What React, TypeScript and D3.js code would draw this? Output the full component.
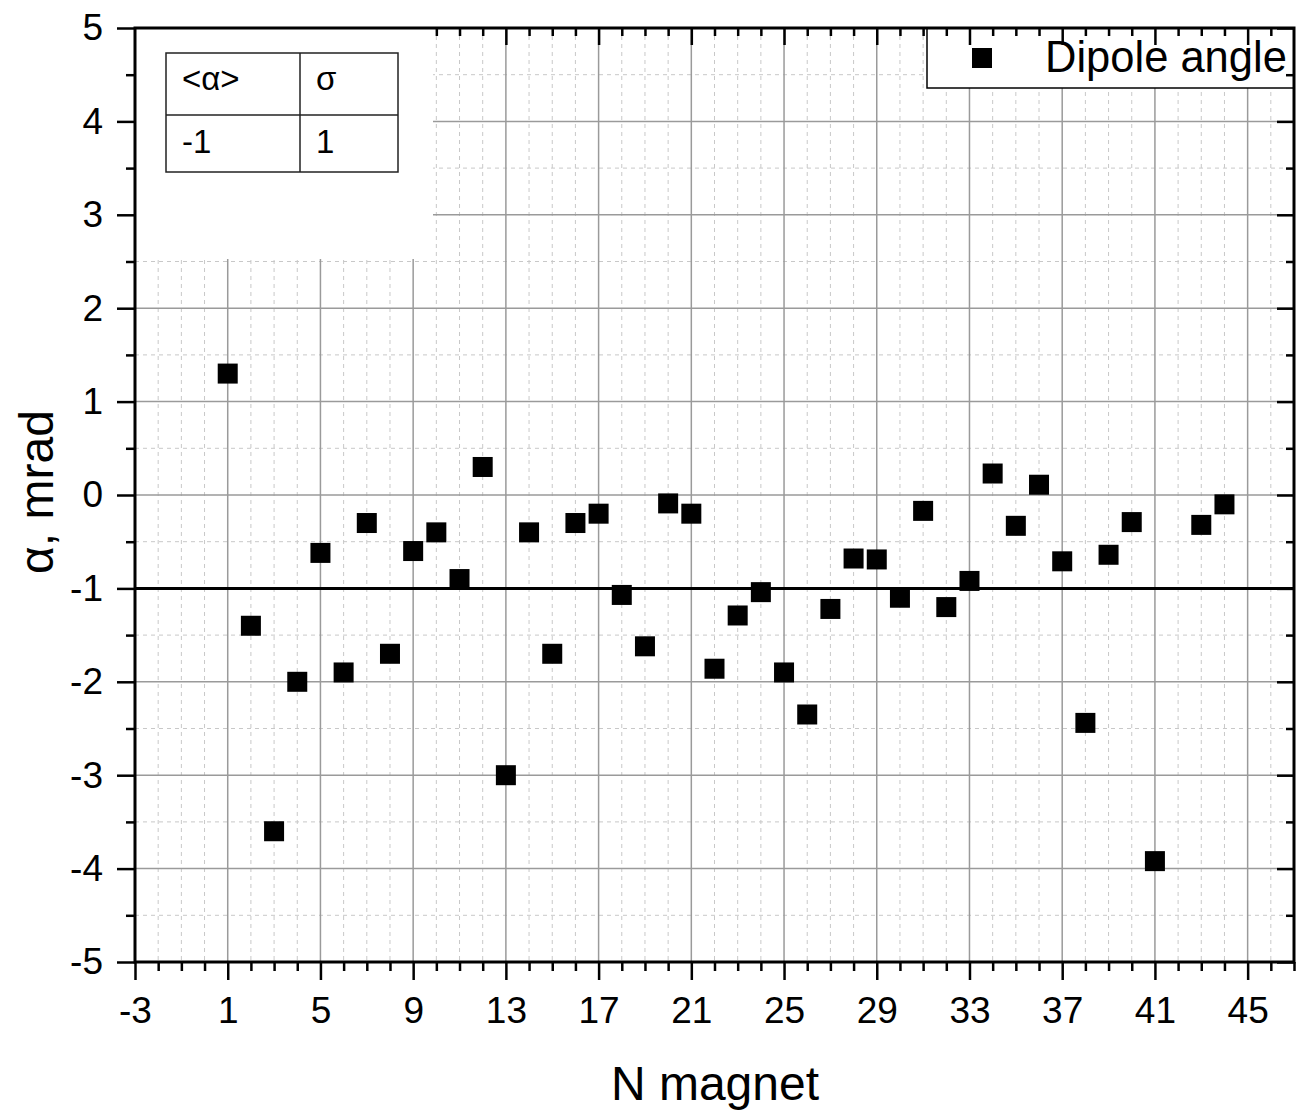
import React, { useEffect, useRef } from "react";
import * as d3 from "d3";

const magnetN = [1,2,3,4,5,6,7,8,9,10,11,12,13,14,15,16,17,18,19,20,21,22,23,24,25,26,27,28,29,30,31,32,33,34,35,36,37,38,39,40,41,43,44];
const alphaValues = [1.30,-1.40,-3.60,-2.00,-0.62,-1.90,-0.30,-1.70,-0.60,-0.40,-0.90,0.30,-3.00,-0.40,-1.70,-0.30,-0.20,-1.07,-1.62,-0.09,-0.20,-1.86,-1.29,-1.04,-1.90,-2.35,-1.22,-0.68,-0.69,-1.10,-0.17,-1.20,-0.92,0.23,-0.33,0.11,-0.71,-2.44,-0.64,-0.29,-3.92,-0.32,-0.10];
const meanAlpha = -1;
const tableHeaders = ["<α>", "σ"];
const tableValues = ["-1", "1"];
const xMajorTicks = [-3,1,5,9,13,17,21,25,29,33,37,41,45];
const yMajorTicks = [-5,-4,-3,-2,-1,0,1,2,3,4,5];
const seriesName = "Dipole angle";
const xTitle = "N magnet";
const yTitle = "α, mrad";

const W = 1297, H = 1110;
const FONT = "'Liberation Sans', Arial, sans-serif";

export default function App() {
  const ref = useRef<SVGSVGElement>(null);
  useEffect(() => {
    const svg = d3.select(ref.current);
    svg.selectAll("*").remove();
    const x = d3.scaleLinear().domain([-3, 47]).range([135, 1294]);
    const y = d3.scaleLinear().domain([-5, 5]).range([962, 28]);
    const [x0, x1] = x.range();
    const [y0, y1] = y.range();
    const xMinor = d3.range(-3, 47.001, 1).filter(v => !xMajorTicks.includes(v));
    const yMinor = d3.range(-5, 5.001, 0.5).filter(v => !yMajorTicks.includes(v));

    const g = svg.append("g");
    // minor grid
    g.selectAll(".gxm").data(xMinor.filter(v => v > -3 && v < 47)).enter().append("line")
      .attr("x1", d => x(d)).attr("x2", d => x(d)).attr("y1", y1).attr("y2", y0)
      .attr("stroke", "#c8c8c8").attr("stroke-width", 1).attr("stroke-dasharray", "4,4");
    g.selectAll(".gym").data(yMinor).enter().append("line")
      .attr("y1", d => y(d)).attr("y2", d => y(d)).attr("x1", x0).attr("x2", x1)
      .attr("stroke", "#c8c8c8").attr("stroke-width", 1).attr("stroke-dasharray", "4,4");
    // major grid
    g.selectAll(".gx").data(xMajorTicks.filter(v => v > -3)).enter().append("line")
      .attr("x1", d => x(d)).attr("x2", d => x(d)).attr("y1", y1).attr("y2", y0)
      .attr("stroke", "#9a9a9a").attr("stroke-width", 1.5);
    g.selectAll(".gy").data(yMajorTicks.filter(v => v > -5 && v < 5)).enter().append("line")
      .attr("y1", d => y(d)).attr("y2", d => y(d)).attr("x1", x0).attr("x2", x1)
      .attr("stroke", "#9a9a9a").attr("stroke-width", 1.5);

    // mean line
    g.append("line").attr("x1", x0).attr("x2", x1).attr("y1", y(meanAlpha)).attr("y2", y(meanAlpha))
      .attr("stroke", "#000").attr("stroke-width", 3);

    // points
    const s = 20;
    g.selectAll(".pt").data(magnetN).enter().append("rect")
      .attr("x", (d) => x(d) - s / 2).attr("y", (d, i) => y(alphaValues[i]) - s / 2)
      .attr("width", s).attr("height", s).attr("fill", "#000");

    // table background
    g.append("rect").attr("x", x0 + 1).attr("y", y1 + 1).attr("width", 432 - x0).attr("height", 258 - y1)
      .attr("fill", "#fff");
    const tb = g.append("g");
    const tx = 166, ty = 53, cw1 = 134, cw2 = 98, rh = 62, rh2 = 57;
    tb.append("rect").attr("x", tx).attr("y", ty).attr("width", cw1 + cw2).attr("height", rh + rh2)
      .attr("fill", "#fff").attr("stroke", "#222").attr("stroke-width", 1.5);
    tb.append("line").attr("x1", tx + cw1).attr("x2", tx + cw1).attr("y1", ty).attr("y2", ty + rh + rh2)
      .attr("stroke", "#222").attr("stroke-width", 1.5);
    tb.append("line").attr("x1", tx).attr("x2", tx + cw1 + cw2).attr("y1", ty + rh).attr("y2", ty + rh)
      .attr("stroke", "#222").attr("stroke-width", 1.5);
    const cols = [tx + 16, tx + cw1 + 16];
    tableHeaders.forEach((t, i) => {
      tb.append("text").attr("x", cols[i]).attr("y", 90).text(t)
        .attr("font-family", FONT).attr("font-size", 33).attr("fill", "#000");
    });
    tableValues.forEach((t, i) => {
      tb.append("text").attr("x", cols[i]).attr("y", 153).text(t)
        .attr("font-family", FONT).attr("font-size", 33).attr("fill", "#000");
    });

    // legend
    const lg = g.append("g");
    lg.append("rect").attr("x", 927).attr("y", y1).attr("width", x1 - 927).attr("height", 60)
      .attr("fill", "#fff").attr("stroke", "#000").attr("stroke-width", 1.5);
    lg.append("rect").attr("x", 972).attr("y", 48).attr("width", 20).attr("height", 20).attr("fill", "#000");
    lg.append("text").attr("x", 1045).attr("y", 72).text(seriesName)
      .attr("font-family", FONT).attr("font-size", 43.5).attr("fill", "#000");

    // axes
    const styleAxis = (sel: any, fs: number) => {
      sel.select(".domain").remove();
      sel.selectAll(".tick line").attr("stroke", "#000").attr("stroke-width", 2.5);
      sel.selectAll(".tick text").attr("font-family", FONT).attr("font-size", fs).attr("fill", "#000");
    };
    const fmt = (d: any) => String(d);
    const TF = 37;
    // bottom
    styleAxis(g.append("g").attr("transform", `translate(0,${y0})`)
      .call(d3.axisBottom(x).tickValues(xMajorTicks).tickSize(18).tickPadding(16.5).tickFormat(fmt)), TF);
    styleAxis(g.append("g").attr("transform", `translate(0,${y0})`)
      .call(d3.axisBottom(x).tickValues(xMinor).tickSize(9).tickFormat(() => "")), TF);
    // left
    styleAxis(g.append("g").attr("transform", `translate(${x0},0)`)
      .call(d3.axisLeft(y).tickValues(yMajorTicks).tickSize(18).tickPadding(14).tickFormat(fmt)), TF);
    styleAxis(g.append("g").attr("transform", `translate(${x0},0)`)
      .call(d3.axisLeft(y).tickValues(yMinor).tickSize(9).tickFormat(() => "")), TF);
    // top (inward), hidden behind table box region
    const topMajor = xMajorTicks.filter(v => x(v) > 432);
    const topMinor = xMinor.filter(v => x(v) > 432 && v < 47);
    styleAxis(g.append("g").attr("transform", `translate(0,${y1})`)
      .call(d3.axisTop(x).tickValues(topMajor).tickSize(-17).tickFormat(() => "")), TF);
    styleAxis(g.append("g").attr("transform", `translate(0,${y1})`)
      .call(d3.axisTop(x).tickValues(topMinor).tickSize(-8).tickFormat(() => "")), TF);
    // right (inward)
    styleAxis(g.append("g").attr("transform", `translate(${x1},0)`)
      .call(d3.axisRight(y).tickValues(yMajorTicks).tickSize(-17).tickFormat(() => "")), TF);
    styleAxis(g.append("g").attr("transform", `translate(${x1},0)`)
      .call(d3.axisRight(y).tickValues(yMinor).tickSize(-8).tickFormat(() => "")), TF);

    // frame
    g.append("rect").attr("x", x0).attr("y", y1).attr("width", x1 - x0).attr("height", y0 - y1)
      .attr("fill", "none").attr("stroke", "#000").attr("stroke-width", 3);

    // titles
    g.append("text").attr("x", 715).attr("y", 1100).attr("text-anchor", "middle")
      .attr("font-family", FONT).attr("font-size", 48).attr("fill", "#000").text(xTitle);
    g.append("text").attr("transform", `translate(53,${(y0 + y1) / 2 - 3}) rotate(-90)`)
      .attr("text-anchor", "middle").attr("font-family", FONT).attr("font-size", 48).attr("fill", "#000")
      .text(yTitle);
  }, []);
  return (
    <svg ref={ref} width={W} height={H}
      style={{ position: "absolute", left: 0, top: 0, background: "#fff" }} />
  );
}
